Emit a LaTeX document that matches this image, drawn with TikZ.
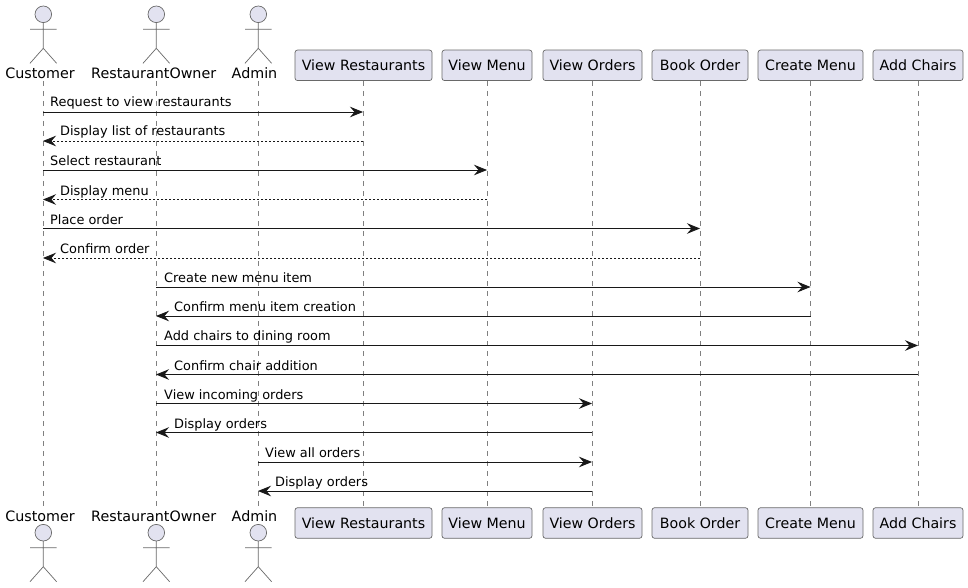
\documentclass[tikz,border=0pt]{standalone}
\usepackage{fontspec}
\setmainfont{DejaVu Sans}
\usetikzlibrary{arrows.meta,calc}
\definecolor{partfill}{HTML}{E2E2F0}
\definecolor{partline}{HTML}{181818}
\tikzset{
  x=1pt,y=-1pt,
  partbox/.style={draw=partline!65,line width=0.7pt,fill=partfill,rounded corners=2.5pt,minimum height=30.5pt,inner xsep=0pt,inner ysep=0pt,font=\fontsize{14.2}{16}\selectfont,text=black,anchor=center},
  actorlabel/.style={font=\fontsize{14.3}{16}\selectfont,text=black,inner sep=0pt,anchor=center},
  actorpart/.style={draw=partline!65,line width=0.7pt},
  lifeline/.style={draw=partline!55,line width=0.6pt,dash pattern=on 5pt off 5pt},
  msg/.style={draw=partline,line width=0.9pt,-{Stealth[length=13pt,width=10.5pt,inset=4.5pt]}},
  ret/.style={msg,dash pattern=on 2pt off 2pt},
  msglabel/.style={font=\fontsize{12.9}{15}\selectfont,text=black,inner sep=0pt,anchor=base west},
}
\newcommand{\drawactor}[2]{%
  \draw[actorpart,fill=partfill] (#1,#2) circle (8.3);
  \draw[actorpart] (#1,#2+8.3) -- (#1,#2+34) (#1-13.3,#2+15) -- (#1+13.3,#2+15)
    (#1-13.3,#2+49) -- (#1,#2+34) -- (#1+13.3,#2+49);
}
\begin{document}
\begin{tikzpicture}
\useasboundingbox (0,0) rectangle (968,588);
\fill[white] (0,0) rectangle (968,588);
\coordinate (cu) at (43,81);   \coordinate (cub) at (43,506);
\coordinate (ow) at (156,81);  \coordinate (owb) at (156,506);
\coordinate (ad) at (258,81);  \coordinate (adb) at (258,506);
\coordinate (vr) at (363,81);  \coordinate (vrb) at (363,508);
\coordinate (vm) at (487,81);  \coordinate (vmb) at (487,508);
\coordinate (vo) at (592,81);  \coordinate (vob) at (592,508);
\coordinate (bo) at (700,81);  \coordinate (bob) at (700,508);
\coordinate (cm) at (810.5,81);\coordinate (cmb) at (810.5,508);
\coordinate (ac) at (918,81);  \coordinate (acb) at (918,508);
\foreach \p in {cu,ow,ad,vr,vm,vo,bo,cm,ac} \draw[lifeline] (\p) -- (\p b);
\drawactor{43.3}{14.3}\drawactor{156.3}{14.3}\drawactor{258.3}{14.3}
\drawactor{43.3}{532.7}\drawactor{156.3}{532.7}\drawactor{258.3}{532.7}
\node[actorlabel] (lcu) at (40,73) {Customer};
\node[actorlabel] (low) at (153.7,73) {RestaurantOwner};
\node[actorlabel] (lad) at (254.5,73) {Admin};
\node[actorlabel] (lcub) at (40,516.5) {Customer};
\node[actorlabel] (lowb) at (153.7,516.5) {RestaurantOwner};
\node[actorlabel] (ladb) at (254.5,516.5) {Admin};
\foreach \n/\cx/\w/\t in {a/363.5/137/View Restaurants,b/487/90/View Menu,c/592.5/99/View Orders,d/700/96/Book Order,e/810.5/105/Create Menu,f/918/90/Add Chairs}{
  \node[partbox,minimum width=\w pt] (top\n) at (\cx,65.3) {\t};
  \node[partbox,minimum width=\w pt] (bot\n) at (\cx,523) {\t};
}
\draw[msg] (cu |- 0,112) -- (vr |- 0,112);
\node[msglabel] (m1) at (50,107) {Request to view restaurants};
\draw[ret] (vr |- 0,141) -- (cu |- 0,141);
\node[msglabel] (m2) at (60,136) {Display list of restaurants};
\draw[msg] (cu |- 0,170) -- (vm |- 0,170);
\node[msglabel] (m3) at (50,165) {Select restaurant};
\draw[ret] (vm |- 0,199.5) -- (cu |- 0,199.5);
\node[msglabel] (m4) at (60,195) {Display menu};
\draw[msg] (cu |- 0,228.5) -- (bo |- 0,228.5);
\node[msglabel] (m5) at (50,224) {Place order};
\draw[ret] (bo |- 0,258) -- (cu |- 0,258);
\node[msglabel] (m6) at (60,253) {Confirm order};
\draw[msg] (ow |- 0,287) -- (cm |- 0,287);
\node[msglabel] (m7) at (164,282) {Create new menu item};
\draw[msg] (cm |- 0,316) -- (ow |- 0,316);
\node[msglabel] (m8) at (174,311) {Confirm menu item creation};
\draw[msg] (ow |- 0,345.5) -- (ac |- 0,345.5);
\node[msglabel] (m9) at (164,340) {Add chairs to dining room};
\draw[msg] (ac |- 0,374.5) -- (ow |- 0,374.5);
\node[msglabel] (m10) at (174,370) {Confirm chair addition};
\draw[msg] (ow |- 0,403.5) -- (vo |- 0,403.5);
\node[msglabel] (m11) at (164,399) {View incoming orders};
\draw[msg] (vo |- 0,432.5) -- (ow |- 0,432.5);
\node[msglabel] (m12) at (174,428) {Display orders};
\draw[msg] (ad |- 0,462) -- (vo |- 0,462);
\node[msglabel] (m13) at (265,457) {View all orders};
\draw[msg] (vo |- 0,491) -- (ad |- 0,491);
\node[msglabel] (m14) at (275,486) {Display orders};
\end{tikzpicture}
\end{document}
